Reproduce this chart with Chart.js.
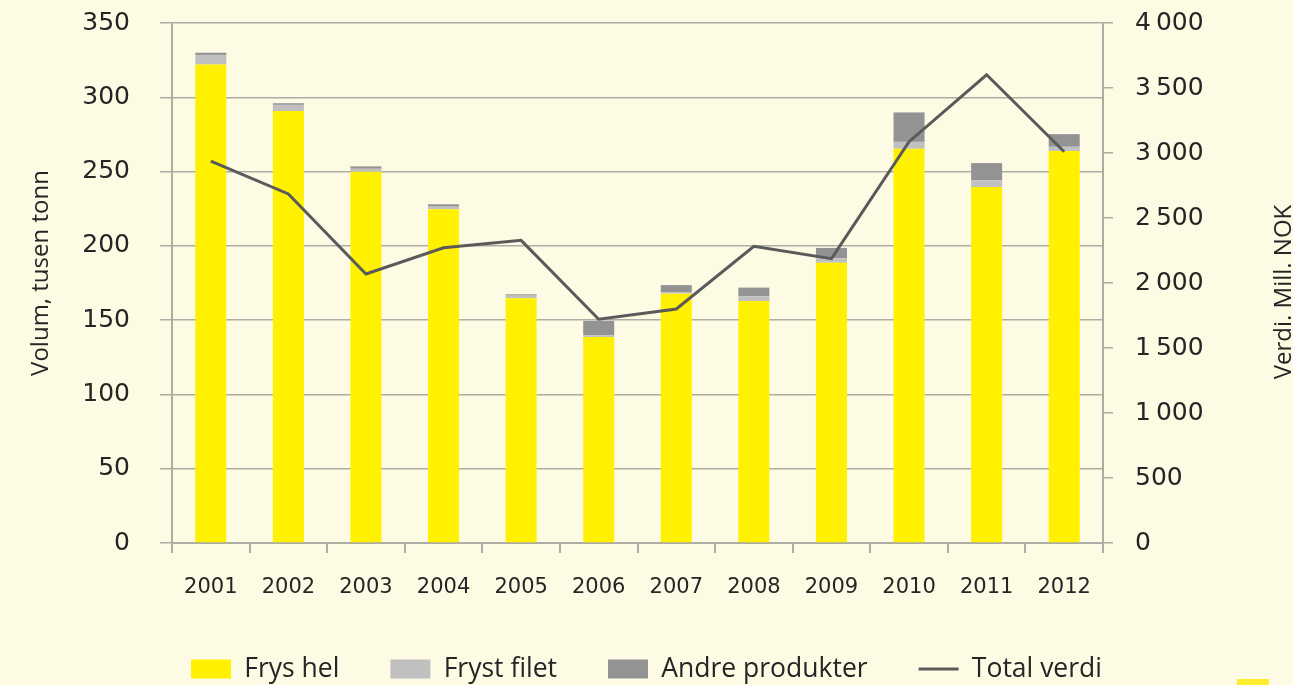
<!DOCTYPE html>
<html>
<head>
<meta charset="utf-8">
<script src="https://cdn.jsdelivr.net/npm/chart.js@4"></script>
<style>
    html, body { margin: 0; padding: 0; background: #fdfbe4; overflow: hidden; }
    #wrap { position: relative; width: 1293px; height: 685px; }
    #corner { position: absolute; left: 1237px; top: 679px; width: 32px; height: 6px; background: #ffec2e; }
</style>
</head>
<body>
<div id="wrap">
    <canvas id="chart" width="1293" height="685"></canvas>
    <div id="corner"></div>
</div>
<script>
var years = ["2001", "2002", "2003", "2004", "2005", "2006", "2007", "2008", "2009", "2010", "2011", "2012"];

// volum, tusen tonn
var frysHel = [322, 290.7, 249.9, 224.6, 164.7, 138.6, 167.8, 162.9, 188.6, 265.3, 239.6, 263.8];
var frystFilet = [6.5, 4.2, 2, 1.8, 1.8, 1.3, 1.1, 3.2, 3.1, 4.7, 4.5, 2.9];
var andreProdukter = [1.5, 1.1, 1.6, 1.6, 0.9, 9.6, 4.7, 5.8, 6.9, 19.8, 11.6, 8.5];

// verdi, mill. NOK
var totalVerdi = [2938, 2685, 2069, 2271, 2328, 1721, 1800, 2282, 2187, 3087, 3602, 3010];

const textColor = "#252525";
const gridColor = "#aeada5";

// axis titles drawn by hand (right one reads bottom-to-top like the left one)
const axisTitles = {
    id: "axisTitles",
    afterDraw(chart) {
        const ctx = chart.ctx;
        ctx.save();
        ctx.fillStyle = textColor;
        ctx.textAlign = "center";
        ctx.textBaseline = "alphabetic";
        ctx.font = "24px 'Open Sans'";

        ctx.save();
        ctx.translate(48, 273);
        ctx.rotate(-Math.PI / 2);
        ctx.fillText("Volum, tusen tonn", 0, 0);
        ctx.restore();

        ctx.save();
        ctx.translate(1291, 292);
        ctx.rotate(-Math.PI / 2);
        ctx.fillText("Verdi. Mill. NOK", 0, 0);
        ctx.restore();

        ctx.restore();
    },
};

function thousands(v) {
    if (v < 1000) return String(v);
    const k = Math.floor(v / 1000);
    const rest = String(v % 1000).padStart(3, "0");
    return k + "\u2009" + rest;
}

const data = {
    labels: years,
    datasets: [
        {
            type: "line",
            label: "Total verdi",
            data: totalVerdi,
            yAxisID: "y1",
            borderColor: "#5a5a5a",
            backgroundColor: "#5a5a5a",
            borderWidth: 3,
            pointRadius: 0,
            tension: 0,
            order: 0,
        },
        {
            type: "bar",
            label: "Frys hel",
            data: frysHel,
            backgroundColor: "#fff100",
            yAxisID: "y",
            stack: "vol",
            order: 1,
        },
        {
            type: "bar",
            label: "Fryst filet",
            data: frystFilet,
            backgroundColor: "#c0c0c0",
            yAxisID: "y",
            stack: "vol",
            order: 1,
        },
        {
            type: "bar",
            label: "Andre produkter",
            data: andreProdukter,
            backgroundColor: "#939393",
            yAxisID: "y",
            stack: "vol",
            order: 1,
        },
    ],
};

const config = {
    data: data,
    plugins: [axisTitles],
    options: {
        responsive: false,
        animation: false,
        barPercentage: 0.4,
        categoryPercentage: 1,
        layout: { padding: { top: 23, left: 0, right: 0, bottom: 0 } },
        plugins: {
            tooltip: { enabled: false },
            legend: {
                position: "bottom",
                maxHeight: 80.25,
                labels: {
                    color: textColor,
                    font: { family: "'Open Sans'", size: 26.5 },
                    usePointStyle: true,
                    pointStyleWidth: 40,
                    boxHeight: 19,
                    padding: 51,
                    // legend order follows the reference: bars first, then the line
                    generateLabels(chart) {
                        const order = [1, 2, 3, 0];
                        return order.map((i) => {
                            const ds = chart.data.datasets[i];
                            const isLine = ds.type === "line";
                            return {
                                text: ds.label,
                                datasetIndex: i,
                                fillStyle: ds.backgroundColor,
                                strokeStyle: isLine ? ds.borderColor : "rgba(0,0,0,0)",
                                lineWidth: isLine ? 3 : 0,
                                pointStyle: isLine ? "line" : "rect",
                                fontColor: textColor,
                                hidden: false,
                            };
                        });
                    },
                },
            },
        },
        scales: {
            x: {
                stacked: true,
                afterFit(scale) { scale.height = 61.75; },
                grid: {
                    offset: true,
                    drawOnChartArea: false,
                    drawTicks: true,
                    tickLength: 10,
                    color: gridColor,
                    lineWidth: 2,
                },
                border: { display: true, color: gridColor, width: 2 },
                ticks: {
                    color: textColor,
                    font: { family: "'DejaVu Sans'", size: 21 },
                    padding: 22,
                    maxRotation: 0,
                },
            },
            y: {
                position: "left",
                stacked: true,
                min: 0,
                max: 350,
                afterFit(scale) {
                    scale.width = 172;
                    scale.paddingTop = 0;
                    scale.paddingBottom = 0;
                },
                grid: {
                    color: gridColor,
                    lineWidth: 1.5,
                    drawTicks: true,
                    tickLength: 12,
                },
                border: { display: true, color: gridColor, width: 2 },
                ticks: {
                    stepSize: 50,
                    color: textColor,
                    font: { family: "'DejaVu Sans'", size: 25 },
                    padding: 30,
                },
            },
            y1: {
                position: "right",
                min: 0,
                max: 4000,
                afterFit(scale) {
                    scale.width = 190;
                    scale.paddingTop = 0;
                    scale.paddingBottom = 0;
                },
                grid: {
                    drawOnChartArea: false,
                    drawTicks: true,
                    tickLength: 10,
                    color: gridColor,
                    lineWidth: 1.5,
                },
                border: { display: true, color: gridColor, width: 2 },
                ticks: {
                    stepSize: 500,
                    color: textColor,
                    font: { family: "'DejaVu Sans'", size: 25 },
                    padding: 22,
                    callback: (v) => thousands(v),
                },
            },
        },
    },
};

document.addEventListener("DOMContentLoaded", function () {
    const canvas = document.querySelector("#chart");
    new Chart(canvas, config);
});
</script>
</body>
</html>
